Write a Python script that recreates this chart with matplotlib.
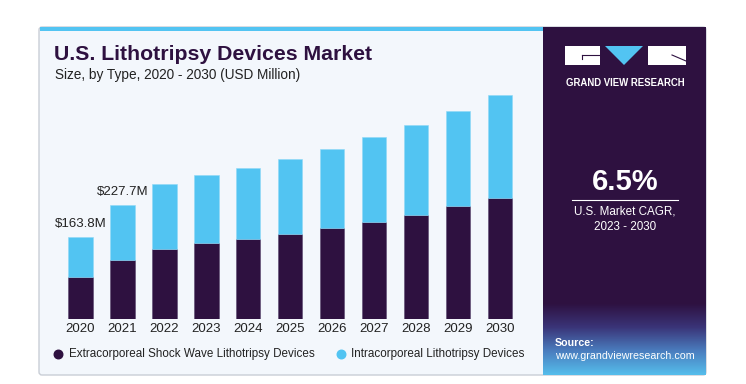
import numpy as np
import matplotlib.pyplot as plt
from matplotlib.patches import FancyBboxPatch, Rectangle, Polygon
from matplotlib.colors import LinearSegmentedColormap

years = ["2020", "2021", "2022", "2023", "2024", "2025", "2026", "2027", "2028", "2029", "2030"]
extracorporeal = [84.5, 118, 141, 152, 160, 171, 183, 195, 209, 226, 243]
intracorporeal = [79.3, 109.7, 129, 136, 142, 150, 157, 169, 179, 190, 205]
labels = {0: "$163.8M", 1: "$227.7M"}
series_names = ["Extracorporeal Shock Wave Lithotripsy Devices", "Intracorporeal Lithotripsy Devices"]

DARK = "#2E1140"
BLUE = "#52C4F2"
CARD = "#F3F7FC"
W, H = 746, 384

plt.rcParams["font.family"] = ["Liberation Sans", "DejaVu Sans"]

fig = plt.figure(figsize=(W / 100, H / 100), dpi=100)
fig.patch.set_facecolor("white")

# background axes in pixel coordinates (y down)
bg = fig.add_axes([0, 0, 1, 1])
bg.set_xlim(0, W)
bg.set_ylim(H, 0)
bg.axis("off")

# card
bg.add_patch(FancyBboxPatch((39, 27), 667, 348, boxstyle="round,pad=0,rounding_size=3",
                            facecolor=CARD, edgecolor="#C9CED6", linewidth=1.0, zorder=1))
bg.add_patch(Rectangle((40, 27), 503, 4, facecolor=BLUE, edgecolor="none", zorder=2))
# right panel
bg.add_patch(Rectangle((543, 27), 163, 348, facecolor=DARK, edgecolor="none", zorder=2))
grad = LinearSegmentedColormap.from_list("src", [DARK, "#3A3478", "#4A7DBE", "#55BDEB"])
bg.imshow(np.linspace(0, 1, 100).reshape(-1, 1), cmap=grad, aspect="auto",
          extent=[543, 706, 375, 303], zorder=3)

# logo
bg.add_patch(Rectangle((565, 46), 35, 19, facecolor="white", edgecolor="none", zorder=4))
bg.plot([582, 600], [55, 55], color=DARK, lw=0.8, zorder=5)
bg.plot([582, 582], [55, 59], color=DARK, lw=0.8, zorder=5)
bg.add_patch(Polygon([(605, 46), (643, 46), (624, 65)], closed=True, facecolor=BLUE,
                     edgecolor="none", zorder=4))
bg.add_patch(Rectangle((648, 46), 38, 19, facecolor="white", edgecolor="none", zorder=4))
bg.plot([672, 686], [55, 61], color=DARK, lw=0.8, zorder=5)
bg.text(625.5, 83, "GRAND VIEW RESEARCH", color="white", fontsize=6.9, fontweight="bold",
        ha="center", va="center", zorder=5)

bg.text(625, 182, "6.5%", color="white", fontsize=21, fontweight="bold",
        ha="center", va="center", zorder=5)
bg.plot([572, 678], [199.5, 199.5], color="white", lw=0.8, zorder=5)
bg.text(625, 212, "U.S. Market CAGR,", color="white", fontsize=8.4, ha="center", va="center", zorder=5)
bg.text(625, 227, "2023 - 2030", color="white", fontsize=8.4, ha="center", va="center", zorder=5)

bg.text(555, 343, "Source:", color="white", fontsize=7.7, fontweight="bold", ha="left", va="center", zorder=5)
bg.text(555, 356, "www.grandviewresearch.com", color="white", fontsize=7.7, ha="left", va="center", zorder=5)

# title
bg.text(54, 55, "U.S. Lithotripsy Devices Market", color=DARK, fontsize=15.3, fontweight="bold",
        ha="left", va="center", zorder=5)
bg.text(55, 75, "Size, by Type, 2020 - 2030 (USD Million)", color="#222222", fontsize=9.8,
        ha="left", va="center", zorder=5)

# legend
bg.scatter([58], [354], s=38, color=DARK, zorder=5)
bg.text(69, 354, series_names[0], color="#222222", fontsize=8.4, ha="left", va="center", zorder=5)
bg.scatter([341], [354], s=38, color=BLUE, zorder=5)
bg.text(351, 354, series_names[1], color="#222222", fontsize=8.4, ha="left", va="center", zorder=5)

# bar chart axes
step = 41.98
left_px = 80.5 - 0.5 * step
right_px = left_px + 11 * step
base_px, top_px = 319.3, 85
ax = fig.add_axes([left_px / W, (H - base_px) / H, (right_px - left_px) / W, (base_px - top_px) / H])
ax.patch.set_alpha(0)
x = np.arange(len(years))
ax.bar(x, extracorporeal, width=0.575, color=DARK, edgecolor="#5A4770", linewidth=0.4)
ax.bar(x, intracorporeal, bottom=extracorporeal, width=0.575, color=BLUE, edgecolor="#8FD8F6", linewidth=0.4)
totals = np.array(extracorporeal) + np.array(intracorporeal)
for i, txt in labels.items():
    ax.text(x[i], totals[i] + 14, txt, ha="center", va="bottom", fontsize=9.5, color="#222222")
ax.set_xlim(-0.5, 10.5)
ax.set_ylim(0, (base_px - top_px) * 2.0)
ax.set_xticks(x)
ax.set_xticklabels(years, fontsize=9.5, color="#222222")
ax.tick_params(axis="x", length=0, pad=3)
ax.set_yticks([])
for s in ax.spines.values():
    s.set_visible(False)

fig.savefig("out.png", dpi=100)
